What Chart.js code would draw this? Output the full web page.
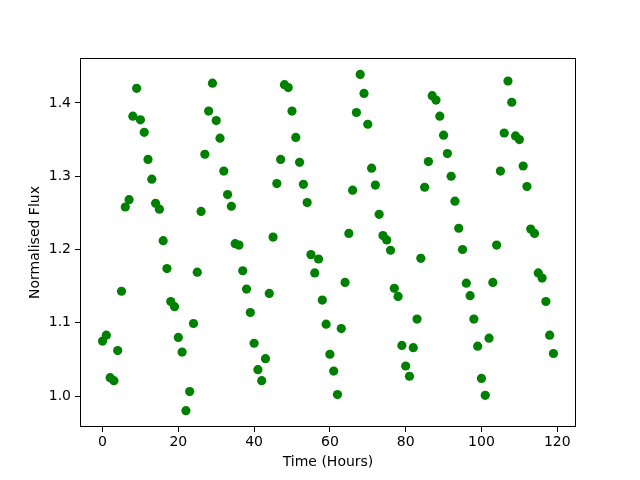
<!DOCTYPE html>
<html>
<head>
    <title>Normalised Flux</title>
    <script src="https://cdn.jsdelivr.net/npm/chart.js"></script>
    <style>
        html, body { margin: 0; padding: 0; background: #fff; }
        #fluxChart { display: block; }
    </style>
</head>
<body>
    <canvas id="fluxChart" width="640" height="480"></canvas>
    <script>
        // hours 0..119, one reading per hour
        const hours = [
            0, 1, 2, 3, 4, 5, 6, 7, 8, 9, 10, 11, 12, 13, 14, 15, 16, 17, 18, 19,
            20, 21, 22, 23, 24, 25, 26, 27, 28, 29, 30, 31, 32, 33, 34, 35, 36, 37, 38, 39,
            40, 41, 42, 43, 44, 45, 46, 47, 48, 49, 50, 51, 52, 53, 54, 55, 56, 57, 58, 59,
            60, 61, 62, 63, 64, 65, 66, 67, 68, 69, 70, 71, 72, 73, 74, 75, 76, 77, 78, 79,
            80, 81, 82, 83, 84, 85, 86, 87, 88, 89, 90, 91, 92, 93, 94, 95, 96, 97, 98, 99,
            100, 101, 102, 103, 104, 105, 106, 107, 108, 109, 110, 111, 112, 113, 114, 115, 116, 117, 118, 119
        ];
        const flux = [
            1.075, 1.083, 1.025, 1.021, 1.062, 1.143, 1.258, 1.268, 1.382, 1.420,
            1.377, 1.360, 1.323, 1.296, 1.263, 1.255, 1.212, 1.174, 1.129, 1.122,
            1.080, 1.060, 0.980, 1.006, 1.099, 1.169, 1.252, 1.330, 1.389, 1.427,
            1.376, 1.352, 1.307, 1.275, 1.259, 1.208, 1.206, 1.171, 1.146, 1.114,
            1.072, 1.036, 1.021, 1.051, 1.140, 1.217, 1.290, 1.323, 1.425, 1.421,
            1.389, 1.353, 1.319, 1.289, 1.264, 1.193, 1.168, 1.187, 1.131, 1.098,
            1.057, 1.034, 1.002, 1.092, 1.155, 1.222, 1.281, 1.387, 1.439, 1.413,
            1.371, 1.311, 1.288, 1.248, 1.219, 1.213, 1.199, 1.147, 1.136, 1.069,
            1.041, 1.027, 1.066, 1.105, 1.188, 1.285, 1.320, 1.410, 1.404, 1.382,
            1.356, 1.331, 1.300, 1.266, 1.229, 1.200, 1.154, 1.137, 1.105, 1.068,
            1.024, 1.001, 1.079, 1.155, 1.206, 1.307, 1.359, 1.430, 1.401, 1.355,
            1.350, 1.314, 1.286, 1.228, 1.222, 1.168, 1.161, 1.129, 1.083, 1.058
        ];
        const xTicks = [0, 20, 40, 60, 80, 100, 120];
        const yTicks = [1.0, 1.1, 1.2, 1.3, 1.4];

        const font = { family: 'DejaVu Sans', size: 14 };

        // full box round the plot area, like matplotlib spines
        const frame = {
            id: 'frame',
            afterDraw(chart) {
                const a = chart.chartArea;
                const c = chart.ctx;
                c.save();
                c.strokeStyle = '#000';
                c.lineWidth = 1;
                c.strokeRect(Math.round(a.left) + 0.5, Math.round(a.top) + 0.5,
                    Math.round(a.right - a.left) - 1, Math.round(a.bottom - a.top) - 1);
                c.restore();
            }
        };

        const ctx = document.getElementById('fluxChart').getContext('2d');
        new Chart(ctx, {
            type: 'scatter',
            data: {
                datasets: [{
                    data: hours.map((h, i) => ({ x: h, y: flux[i] })),
                    backgroundColor: '#008000',
                    borderColor: '#008000',
                    borderWidth: 0,
                    pointRadius: 4.6,
                    pointHoverRadius: 4.6
                }]
            },
            options: {
                responsive: false,
                animation: false,
                events: [],
                layout: { padding: { left: 0, right: 64, top: 58, bottom: 0 } },
                plugins: { legend: { display: false }, tooltip: { enabled: false } },
                scales: {
                    x: {
                        type: 'linear',
                        min: -5.95,
                        max: 124.95,
                        afterBuildTicks: s => { s.ticks = xTicks.map(v => ({ value: v })); },
                        afterFit: s => { s.height = 53; },
                        grid: { drawOnChartArea: false, drawTicks: true, tickLength: 5, color: '#000' },
                        border: { display: false },
                        ticks: { color: '#000', font: font, padding: 2, maxRotation: 0,
                                 callback: v => String(v) },
                        title: { display: true, text: 'Time (Hours)', color: '#000', font: font,
                                 padding: { top: 9, bottom: 9 } }
                    },
                    y: {
                        type: 'linear',
                        min: 0.9577,
                        max: 1.4614,
                        afterBuildTicks: s => { s.ticks = yTicks.map(v => ({ value: v })); },
                        afterFit: s => { s.width = 80; },
                        grid: { drawOnChartArea: false, drawTicks: true, tickLength: 5, color: '#000' },
                        border: { display: false },
                        ticks: { color: '#000', font: font, padding: 4,
                                 callback: v => Number(v).toFixed(1) },
                        title: { display: true, text: 'Normalised Flux', color: '#000', font: font,
                                 padding: { top: 27, bottom: 27 } }
                    }
                }
            },
            plugins: [frame]
        });
    </script>
</body>
</html>
